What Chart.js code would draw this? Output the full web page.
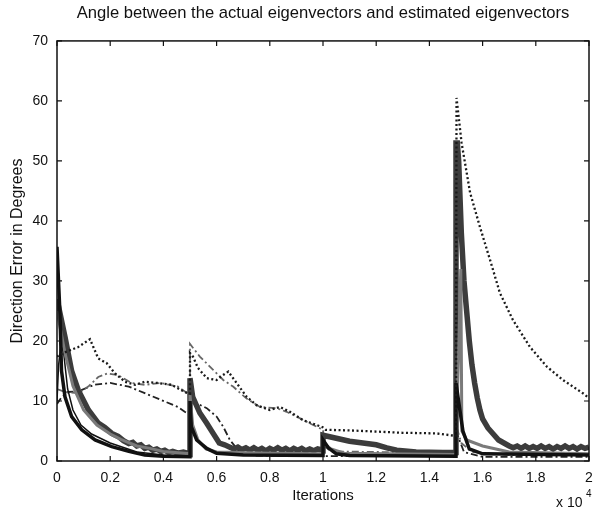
<!DOCTYPE html>
<html>
<head>
<meta charset="utf-8">
<script src="https://cdn.jsdelivr.net/npm/chart.js@4"></script>
<style>
  body { margin: 0; background: #fff; }
  canvas { display: block; }
</style>
</head>
<body>
<canvas id="chart" width="595" height="511"></canvas>
<script>
// values: [iterations, degrees]
const blackFast = [[0,35.7],[110,24.7],[170,15],[300,10.7],[550,7.4],[930,5.2],[1430,3.5],[2060,2.4],[2700,1.6],[3300,1],[4000,0.8],[5000,0.7],
  [5000,10],[5050,5.7],[5250,3.5],[5630,2.1],[6000,1.3],[7000,1],[10000,0.9],
  [10000,3.5],[10200,2.2],[10500,1.2],[11000,0.9],[15000,0.8],
  [15000,13],[15260,5],[15500,2],[16000,1.2],[20000,1]];
const blackLoop = [[0,10],[60,16],[150,19.5],[250,18],[400,12],[600,8.5],[900,6],[1300,4.5],[2000,3],[3000,1.5],[4000,1],[5000,0.8]];
const grayFast = [[0,25],[300,18],[600,12.5],[1000,8.5],[1500,6],[2000,4.5],[2400,3.6],[3000,2.5],[3500,2.1],[4000,1.6],[5000,1.2],
  [5000,11],[5100,6],[5300,3.5],[5600,2],[6000,1.5],[8000,1.3],[10000,1.2],
  [10000,3],[10300,2],[10800,1.3],[15000,1.1],
  [15000,2],[15180,32],[15220,5],[15400,3.5],[16000,2.5],[17000,1.5],[20000,1.2]];
const darkNoisy = [[0,27],[300,20.7],[550,15],[800,11.8],[1180,8.5],[1550,6.3],[1800,5.6],[2060,4.6],[2300,4.1],[2500,3.4],[2700,2.9],[2850,3.1],[3000,2.5],[3150,2.7],[3300,2.1],[3450,2.3],[3600,1.8],[3750,2],[3900,1.6],[4050,1.8],[4200,1.4],[4350,1.6],[4550,1.3],[4750,1.5],[5000,1.2],
  [5000,13.8],[5100,10.7],[5370,8],[5630,6.3],[5870,4.6],[6100,3],[6300,2.7],[6500,2.3],[6650,2],[6800,2.3],[6950,1.9],[7100,2.2],[7250,1.8],[7400,2.2],[7550,1.8],[7700,2.1],[7850,1.7],[8000,2.1],[8150,1.8],[8300,2.2],[8450,1.8],[8600,2.1],[8750,1.7],[8900,2.1],[9050,1.8],[9200,2.1],[9350,1.7],[9500,2],[9650,1.7],[9800,2],[10000,1.8],
  [10000,4.3],[10500,3.8],[11000,3.3],[11500,3],[12000,2.7],[12400,2.2],[12770,1.8],[13500,1.5],[14500,1.4],[15000,1.4],
  [15000,53],[15050,53],[15100,50],[15200,38],[15300,30],[15400,25],[15500,20],[15600,16],[15700,13],[15800,10.5],[15900,8.5],[16000,7],[16200,5.5],[16400,4.5],[16600,3.5],[16800,3],[17000,2.5],
  [17150,2.2],[17300,2.5],[17450,2.1],[17600,2.5],[17750,2.1],[17900,2.4],[18050,2.1],[18200,2.5],[18350,2.1],[18500,2.4],[18650,2],[18800,2.4],[18950,2.1],[19100,2.5],[19250,2.1],[19400,2.4],[19550,2],[19700,2.4],[19850,2.1],[20000,2.3]];
const dottedHigh = [[0,17.4],[100,17.7],[400,18.3],[800,19],[1240,20.3],[1550,17.1],[1870,16.3],[2180,14.6],[2560,13.2],[2930,12.7],[3300,13.2],[3800,13],[4300,12.7],[4680,11.8],[4900,11.3],[5000,11.2],
  [5000,18],[5110,17.4],[5300,15.5],[5630,13.8],[6000,13.5],[6200,14.2],[6440,14.9],[6750,13],[7130,10.7],[7500,9.3],[8000,8.5],[8380,9],[8760,8.2],[9250,6.8],[9760,6],[10000,5.6],
  [10100,5.2],[11000,5.1],[12000,4.9],[13000,4.7],[14270,4.6],[14770,4.3],[15000,4.2],
  [15020,60.5],[15210,53],[15530,44.7],[15900,39],[16280,33.5],[16650,28],[17140,23.5],[17780,19],[18420,15.7],[19020,13.5],[19770,11.3],[20000,10.5]];
const grayDashDot = [[0,12],[300,11.5],[800,11.3],[1200,12.5],[1550,14],[1900,14.6],[2300,14.3],[2800,13],[3300,12.7],[3900,13],[4550,12.4],[4900,11.3],[5000,11],
  [5000,19.5],[5370,17.4],[5870,15.2],[6250,13.5],[6620,12.4],[7130,10.4],[7630,9],[8260,8.8],[8630,8.2],[9140,7.1],[9630,6],[10000,5.2],
  [10050,2.5],[10300,1.6],[12000,1.5],[15000,1.4],
  [15000,6],[15200,3],[15600,1.5],[17000,1],[20000,1]];
const blackDashDot = [[0,9.5],[150,10.5],[400,11.5],[800,11.6],[1400,12.7],[2000,13],[2700,12.4],[3300,11.3],[3900,10.2],[4550,9],[4800,8.2],[5000,7.8],
  [5000,10.5],[5100,9.9],[5630,8.8],[6000,7.4],[6250,5.7],[6500,3.5],[6700,2.4],[6900,1.3],[7500,0.9],[10000,0.8],
  [15000,0.8],[15000,5],[15300,1.5],[16000,0.7],[20000,0.7]];

const xTickLabels = ['0', '0.2', '0.4', '0.6', '0.8', '1', '1.2', '1.4', '1.6', '1.8', '2'];
const yTickLabels = ['0', '10', '20', '30', '40', '50', '60', '70'];

const toPts = arr => arr.map(p => ({ x: p[0], y: p[1] }));

Chart.defaults.font.family = "'Liberation Sans', Arial, sans-serif";
Chart.defaults.color = '#111';

// MATLAB style box with ticks pointing inward
const boxPlugin = {
  id: 'box',
  afterDraw(chart) {
    const { ctx, chartArea: a, scales } = chart;
    ctx.save();
    ctx.strokeStyle = '#111';
    ctx.lineWidth = 1.5;
    ctx.strokeRect(a.left, a.top, a.right - a.left, a.bottom - a.top);
    ctx.lineWidth = 1.2;
    ctx.beginPath();
    scales.x.ticks.forEach(t => {
      const px = scales.x.getPixelForValue(t.value);
      ctx.moveTo(px, a.bottom); ctx.lineTo(px, a.bottom - 5);
      ctx.moveTo(px, a.top); ctx.lineTo(px, a.top + 5);
    });
    scales.y.ticks.forEach(t => {
      const py = scales.y.getPixelForValue(t.value);
      ctx.moveTo(a.left, py); ctx.lineTo(a.left + 5, py);
      ctx.moveTo(a.right, py); ctx.lineTo(a.right - 5, py);
    });
    ctx.stroke();
    // exponent note under the x axis
    ctx.fillStyle = '#111';
    ctx.font = "14px 'Liberation Sans', Arial, sans-serif";
    ctx.textBaseline = 'alphabetic';
    ctx.fillText('x 10', 556, 507);
    ctx.font = "10px 'Liberation Sans', Arial, sans-serif";
    ctx.fillText('4', 586, 497);
    ctx.restore();
  }
};

function ds(data, color, width, dash) {
  return {
    data: toPts(data),
    borderColor: color,
    borderWidth: width,
    borderDash: dash || [],
    pointRadius: 0,
    tension: 0,
    fill: false
  };
}

new Chart(document.getElementById('chart'), {
  type: 'line',
  data: {
    datasets: [
      ds(dottedHigh, '#1a1a1a', 2.3, [2, 2.5]),
      ds(blackFast, '#111', 3.5),
      ds(grayFast, '#7a7a7a', 3),
      ds(darkNoisy, '#3c3c3c', 5.5),
      ds(blackLoop, '#111', 1.5),
      ds(grayDashDot, '#666', 1.8, [7, 3, 2, 3]),
      ds(blackDashDot, '#222', 1.8, [7, 3, 2, 3])
    ]
  },
  options: {
    responsive: false,
    animation: false,
    layout: { padding: { left: 0, right: 6, top: 0, bottom: 0 } },
    plugins: {
      legend: { display: false },
      tooltip: { enabled: false },
      title: {
        display: true,
        fullSize: false,
        text: 'Angle between the actual eigenvectors and estimated eigenvectors',
        font: { size: 16.6, weight: 'normal' },
        color: '#111',
        padding: { top: 3, bottom: 18 }
      }
    },
    scales: {
      x: {
        type: 'linear',
        min: 0,
        max: 20000,
        grid: { display: false, drawTicks: false },
        border: { display: false },
        ticks: {
          stepSize: 2000,
          padding: 9,
          maxRotation: 0,
          font: { size: 14 },
          callback: (v, i) => xTickLabels[i]
        },
        title: { display: true, text: 'Iterations', font: { size: 15 }, padding: { top: 0, bottom: 6 } },
        afterFit: s => { s.height = 50; s.paddingLeft = 0; s.paddingRight = 0; }
      },
      y: {
        min: 0,
        max: 70,
        grid: { display: false, drawTicks: false },
        border: { display: false },
        ticks: {
          stepSize: 10,
          padding: 9,
          font: { size: 14 },
          callback: (v, i) => yTickLabels[i]
        },
        title: { display: true, text: 'Direction Error in Degrees', font: { size: 16 }, padding: { top: 8, bottom: 0 } },
        afterFit: s => { s.width = 57; s.paddingTop = 0; s.paddingBottom = 0; }
      }
    }
  },
  plugins: [boxPlugin]
});
</script>
</body>
</html>
